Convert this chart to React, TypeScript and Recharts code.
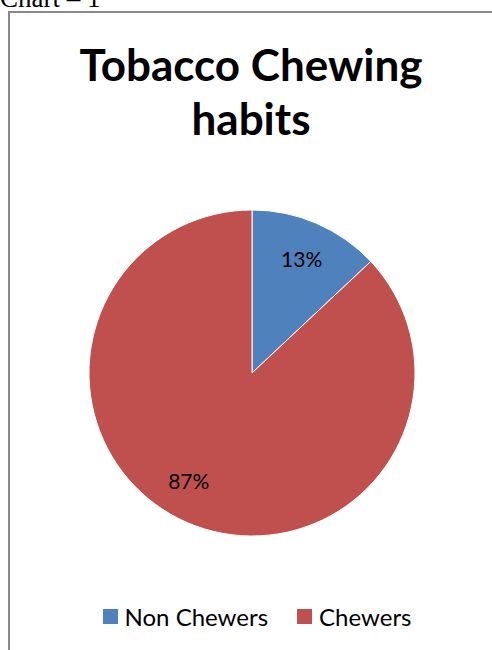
import { PieChart, Pie, Cell, Legend } from "recharts"

const categories = ["Non Chewers", "Chewers"]
const shares = [13, 87]
const colors = ["#4F81BD", "#C0504D"]

const data = categories.map((name, i) => ({ name, value: shares[i] }))

const FONT = "Lato, 'Open Sans', sans-serif"
const RAD = Math.PI / 180
// excel's "best fit" puts the big slice's label a bit off its middle
const labelTurn = [0, -7]

function SliceLabel(props: any) {
  const { cx, cy, midAngle, percent, index } = props
  const r = 125
  const a = midAngle + (labelTurn[index] || 0)
  const x = cx + r * Math.cos(-a * RAD)
  const y = cy + r * Math.sin(-a * RAD)
  return (
    <text x={x} y={y} fill="#000" fontSize={21} fontFamily={FONT} textAnchor="middle" dominantBaseline="central">
      {`${Math.round(percent * 100)}%`}
    </text>
  )
}

function LegendBox() {
  return (
    <div style={{ display: "flex", justifyContent: "center", alignItems: "center", fontFamily: FONT, fontSize: 24, color: "#000" }}>
      {categories.map((c, i) => (
        <div key={c} style={{ display: "flex", alignItems: "center", marginRight: i === 0 ? 29 : 0 }}>
          <span style={{ width: 15, height: 15, background: colors[i], marginRight: 7, display: "inline-block" }} />
          <span>{c}</span>
        </div>
      ))}
    </div>
  )
}

export default function App() {
  return (
    <div style={{ position: "absolute", left: 0, top: 0, width: 492, height: 650, overflow: "hidden", background: "#fff" }}>
      <div style={{ position: "absolute", left: 0, top: -17, fontFamily: "'Liberation Serif', serif", fontSize: 27, whiteSpace: "nowrap" }}>
        Chart – 1
      </div>
      <div style={{ position: "absolute", left: 8, top: 11, width: 500, height: 660, border: "2px solid #888", boxSizing: "border-box" }} />
      <div style={{ position: "absolute", left: 10, top: 37, width: 482, textAlign: "center", fontFamily: FONT, fontWeight: 700, fontSize: 44, lineHeight: "54px", color: "#000" }}>
        Tobacco Chewing
        <br />
        habits
      </div>
      <div style={{ position: "absolute", left: 0, top: 0 }}>
        <PieChart width={492} height={650} margin={{ top: 0, right: 0, bottom: 0, left: 0 }}>
          <Pie
            data={data}
            dataKey="value"
            nameKey="name"
            cx={252}
            cy={373}
            outerRadius={163}
            startAngle={90}
            endAngle={-270}
            stroke="#fff"
            strokeWidth={1}
            label={SliceLabel}
            labelLine={false}
            isAnimationActive={false}
          >
            {data.map((d, i) => (
              <Cell key={d.name} fill={colors[i]} />
            ))}
          </Pie>
          <Legend
            verticalAlign="bottom"
            align="center"
            content={LegendBox}
            wrapperStyle={{ left: 16, width: 482, bottom: 19 }}
          />
        </PieChart>
      </div>
    </div>
  )
}
